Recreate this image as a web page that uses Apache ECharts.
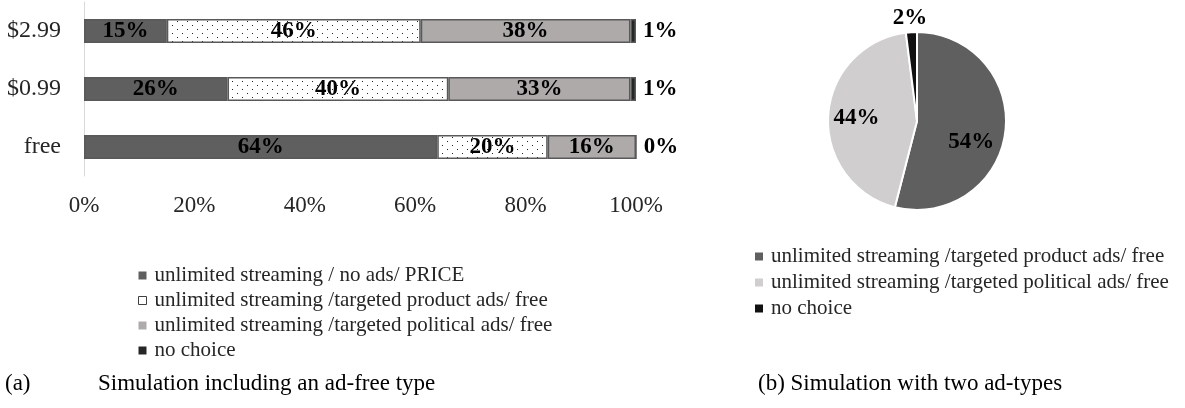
<html>
<head>
  <meta charset="utf-8" />
  <script src="https://cdn.jsdelivr.net/npm/echarts@6/dist/echarts.min.js"></script>
  <style>
    html, body { margin: 0; padding: 0; background: #fff; }
    #chart { width: 1185px; height: 408px; }
  </style>
</head>
<body>
  <div id="chart"></div>
  <script>
    // bar chart (a) data
    var categories = ['free', '$0.99', '$2.99'];
    var seriesNames = [
      'unlimited streaming / no ads/ PRICE',
      'unlimited streaming /targeted product ads/ free',
      'unlimited streaming /targeted political ads/ free',
      'no choice'
    ];
    var noAdsPrice = [64, 26, 15];
    var productAds = [20, 40, 46];
    var politicalAds = [16, 33, 38];
    var noChoice = [0, 1, 1];
    var xTicks = [0, 20, 40, 60, 80, 100];

    // pie chart (b) data
    var pieNames = [
      'unlimited streaming /targeted product ads/ free',
      'unlimited streaming /targeted political ads/ free',
      'no choice'
    ];
    var pieValues = [54, 44, 2];

    var FONT = 'Liberation Serif';
    var barColors = ['#5f5f5f', '#ffffff', '#aeaaaa', '#262626'];
    var pieColors = ['#5f5f5f', '#d0cece', '#111111'];

    // dotted fill for the product ads segment
    var dots = document.createElement('canvas');
    dots.width = 10; dots.height = 8;
    var ctx = dots.getContext('2d');
    ctx.fillStyle = '#fff';
    ctx.fillRect(0, 0, 10, 8);
    ctx.fillStyle = '#222';
    ctx.fillRect(2, 1, 1, 1);
    ctx.fillRect(7, 5, 1, 1);

    var barData = [noAdsPrice, productAds, politicalAds, noChoice];

    var barSeries = barData.map(function (vals, i) {
      return {
        name: seriesNames[i],
        type: 'bar',
        stack: 'total',
        barWidth: 24,
        data: vals,
        itemStyle: {
          color: i === 1 ? { image: dots, repeat: 'repeat' } : barColors[i],
          borderColor: '#595959',
          borderWidth: 1.5
        },
        label: {
          show: true,
          position: i === 3 ? 'right' : 'inside',
          distance: 7,
          formatter: '{c}%',
          fontFamily: FONT,
          fontWeight: 'bold',
          fontSize: 23,
          color: '#000'
        },
        emphasis: { disabled: true },
        silent: true
      };
    });

    // inside label offsets for the pie, per slice
    var pieOffsets = [[7, 15], [-13, 0], [-4, -56]];

    var pieSeries = {
      type: 'pie',
      center: [917, 121],
      radius: 89,
      startAngle: 90,
      clockwise: true,
      silent: true,
      itemStyle: { borderColor: '#fff', borderWidth: 2 },
      label: {
        show: true,
        position: 'inside',
        formatter: '{c}%',
        fontFamily: FONT,
        fontWeight: 'bold',
        fontSize: 23,
        color: '#000'
      },
      labelLine: { show: false },
      data: pieValues.map(function (v, i) {
        return {
          value: v,
          name: pieNames[i],
          itemStyle: { color: pieColors[i] },
          label: { offset: pieOffsets[i] }
        };
      })
    };

    var chart = echarts.init(document.getElementById('chart'));

    var legendText = { fontFamily: FONT, fontSize: 21, lineHeight: 21, color: '#262626', padding: [0, 0, 0, 3] };

    var option = {
      animation: false,
      grid: { left: 84, top: 2, width: 552, height: 174 },
      xAxis: {
        type: 'value',
        min: xTicks[0],
        max: xTicks[xTicks.length - 1],
        interval: xTicks[1] - xTicks[0],
        axisLine: { show: false },
        axisTick: { show: false },
        splitLine: { show: false },
        axisLabel: {
          formatter: '{value}%',
          margin: 18,
          fontFamily: FONT,
          fontSize: 23,
          color: '#262626'
        }
      },
      yAxis: {
        type: 'category',
        data: categories,
        axisLine: { show: true, lineStyle: { color: '#d9d9d9', width: 1 } },
        axisTick: { show: false },
        axisLabel: {
          margin: 23,
          fontFamily: FONT,
          fontSize: 24,
          color: '#262626'
        }
      },
      legend: [
        {
          orient: 'vertical',
          left: 138,
          top: 265,
          padding: 0,
          itemWidth: 8,
          itemHeight: 8,
          itemGap: 4,
          icon: 'rect',
          selectedMode: false,
          textStyle: legendText,
          data: seriesNames.map(function (n, i) {
            return {
              name: n,
              itemStyle: { color: barColors[i], borderColor: i === 1 ? '#404040' : barColors[i], borderWidth: i === 1 ? 1 : 0 }
            };
          })
        },
        {
          orient: 'vertical',
          left: 755,
          top: 246,
          padding: 0,
          itemWidth: 8,
          itemHeight: 8,
          itemGap: 5,
          icon: 'rect',
          selectedMode: false,
          textStyle: legendText,
          data: pieNames.map(function (n, i) {
            return { name: n, itemStyle: { color: pieColors[i], borderWidth: 0 } };
          })
        }
      ],
      graphic: [
        { type: 'text', left: 5, top: 372, style: { text: '(a)', font: '23px ' + FONT, fill: '#000' } },
        { type: 'text', left: 98, top: 372, style: { text: 'Simulation including an ad-free type', font: '23px ' + FONT, fill: '#000' } },
        { type: 'text', left: 758, top: 372, style: { text: '(b) Simulation with two ad-types', font: '23px ' + FONT, fill: '#000' } }
      ],
      series: barSeries.concat([pieSeries])
    };

    chart.setOption(option);
  </script>
</body>
</html>
